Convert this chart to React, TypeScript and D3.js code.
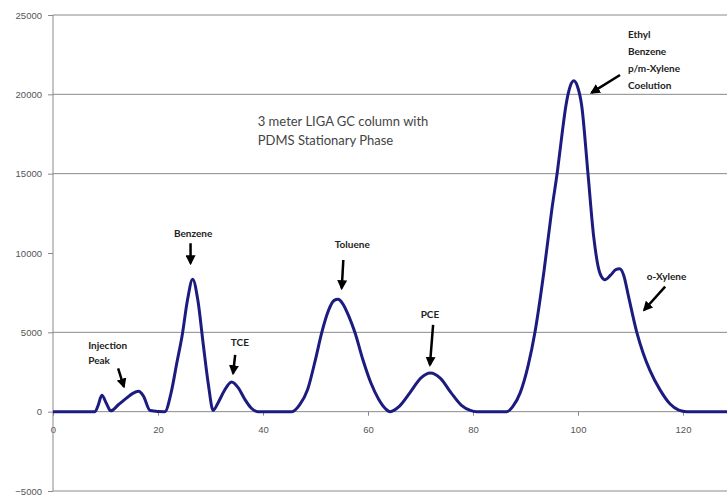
import React, { useEffect, useRef } from 'react';
import * as d3 from 'd3';

// retention time (min) and detector signal
const retentionTimes = [
  0, 8, 8.6, 9.3, 10.2, 11, 12.5, 14, 15.2, 16.3, 17.2, 18.5, 21.3, 22.5, 23.6, 24.6, 25.6,
  26.6, 27.6, 28.6, 29.6, 30.5, 31.5, 32.6, 34.0, 35.3, 36.5, 37.7, 39, 45.5, 47, 48.5, 50,
  51.2, 52.5, 53.5, 54.3, 55.2, 56.3, 57.5, 59, 60.5, 62, 63.3, 64.2, 66, 68, 70, 71.9, 73.8,
  75.8, 77.8, 79.5, 80.7, 86.4, 87.6, 89, 90.5, 91.8, 93.5, 95, 96.1, 97, 97.7, 98.5, 99.2,
  99.9, 100.7, 101.9, 103, 104.2, 105.1, 106.2, 107.2, 107.9, 108.7, 109.6, 111.2, 112.4,
  113.7, 115.6, 117.5, 119.2, 120.7, 132,
];
const signal = [
  0, 0, 400, 1030, 500, 50, 450, 850, 1150, 1280, 1000, 80, 0, 1200, 3100, 4800, 7000,
  8350, 7000, 4300, 1700, 80, 600, 1300, 1870, 1500, 800, 250, 0, 0, 440, 1400, 3300,
  5000, 6400, 7000, 7080, 6800, 6050, 5000, 3300, 1850, 800, 200, 0, 350, 1200, 2100, 2440, 2100,
  1200, 400, 80, 0, 0, 330, 1200, 2900, 5000, 8800, 12700, 15200, 17600, 19300, 20500, 20850,
  20500, 19300, 15000, 11000, 8700, 8320, 8600, 8950, 9000, 8600, 7300, 5000, 3700,
  2600, 1390, 500, 100, 0, 0,
];

const yTicks = [-5000, 0, 5000, 10000, 15000, 20000, 25000];
const yGridValues = [-5000, 5000, 15000, 20000, 25000];
const xTicks = [0, 20, 40, 60, 80, 100, 120];

// peak labels: text lines, anchor position and arrow (data units)
const peakLabels = [
  { lines: ['Injection', 'Peak'], x: 6.7, y: 4200, anchor: 'start', arrow: [12.4, 2735, 13.5, 1580] },
  { lines: ['Benzene'], x: 26.7, y: 11200, anchor: 'middle', arrow: [26.2, 10614, 26.2, 9354] },
  { lines: ['TCE'], x: 35.6, y: 4330, anchor: 'middle', arrow: [34.7, 3574, 34.3, 2420] },
  { lines: ['Toluene'], x: 57, y: 10507, anchor: 'middle', arrow: [55.3, 9562, 55.0, 7778] },
  { lines: ['PCE'], x: 71.8, y: 6098, anchor: 'middle', arrow: [72.4, 5465, 71.8, 2944] },
  { lines: ['Ethyl', 'Benzene', 'p/m-Xylene', 'Coelution'], x: 109.5, y: 23743, anchor: 'start', arrow: [108, 21221, 102.6, 20107] },
  { lines: ['o-Xylene'], x: 113.1, y: 8490, anchor: 'start', arrow: [116.6, 7879, 112.6, 6408] },
];

const captionLines = ['3 meter LIGA GC column with', 'PDMS Stationary Phase'];

const App = () => {
  const svgRef = useRef<SVGSVGElement>(null);

  useEffect(() => {
    document.body.style.margin = '0';
    const width = 727;
    const height = 497;

    const svg = d3.select(svgRef.current);
    svg.selectAll('*').remove();
    svg.attr('width', width).attr('height', height);

    const x = d3.scaleLinear().domain([0, 120]).range([53, 683]);
    const y = d3.scaleLinear().domain([-5000, 25000]).range([491, 15]);

    svg.append('defs').append('marker')
      .attr('id', 'head')
      .attr('viewBox', '0 0 10 10')
      .attr('refX', 8).attr('refY', 5)
      .attr('markerWidth', 4).attr('markerHeight', 4)
      .attr('orient', 'auto')
      .append('path').attr('d', 'M0,0 L10,5 L0,10 z').attr('fill', '#000');

    // gridlines
    svg.selectAll('line.grid')
      .data(yGridValues)
      .enter().append('line')
      .attr('x1', x(0)).attr('x2', width)
      .attr('y1', d => y(d)).attr('y2', d => y(d))
      .attr('stroke', '#8a8a8a').attr('stroke-width', 1);

    // x axis at zero
    const xAxis = svg.append('g').attr('transform', `translate(0,${y(0)})`)
      .call(d3.axisBottom(x).tickValues(xTicks).tickSize(4).tickPadding(11).tickFormat(d3.format('d')));
    xAxis.select('.domain').attr('stroke', '#8a8a8a').attr('d', `M${x(0)},0H${width}`);
    xAxis.selectAll('.tick line').attr('stroke', '#8a8a8a');
    xAxis.selectAll('text')
      .attr('fill', '#555').style('font-family', '"Liberation Sans Narrow", "Liberation Sans", sans-serif').style('font-size', '9.5px');

    // y axis
    const yAxis = svg.append('g').attr('transform', `translate(${x(0)},0)`)
      .call(d3.axisLeft(y).tickValues(yTicks).tickSize(5).tickPadding(6).tickFormat(d3.format('d')));
    yAxis.select('.domain').attr('stroke', '#8a8a8a').attr('d', `M0,${y(25000)}V${y(-5000)}`);
    yAxis.selectAll('.tick line').attr('stroke', '#8a8a8a');
    yAxis.selectAll('text')
      .attr('fill', '#555').style('font-family', '"Liberation Sans Narrow", "Liberation Sans", sans-serif').style('font-size', '9.5px');

    // chromatogram trace
    const points = retentionTimes.map((t, i) => [t, signal[i]] as [number, number]);
    const line = d3.line<[number, number]>()
      .x(d => x(d[0]))
      .y(d => y(d[1]))
      .curve(d3.curveMonotoneX);
    svg.append('path')
      .datum(points)
      .attr('d', line)
      .attr('fill', 'none')
      .attr('stroke', '#1c1c80')
      .attr('stroke-width', 3)
      .attr('stroke-linejoin', 'round');

    // caption
    svg.append('text')
      .attr('x', x(39)).attr('y', y(18321))
      .attr('fill', '#444')
      .style('font-family', 'Lato, sans-serif').style('font-size', '13px')
      .selectAll('tspan')
      .data(captionLines)
      .enter().append('tspan')
      .attr('x', x(39))
      .attr('dy', (d, i) => (i === 0 ? '0.35em' : '19px'))
      .text(d => d);

    // peak labels
    peakLabels.forEach(p => {
      svg.append('text')
        .attr('x', x(p.x)).attr('y', y(p.y))
        .attr('text-anchor', p.anchor)
        .attr('fill', '#222')
        .style('font-family', 'Lato, sans-serif').style('font-size', '10px').style('font-weight', 'bold')
        .selectAll('tspan')
        .data(p.lines)
        .enter().append('tspan')
        .attr('x', x(p.x))
        .attr('dy', (d, i) => (i === 0 ? '0.35em' : p.lines.length > 2 ? '17px' : '15px'))
        .text(d => d);
      const [ax1, ay1, ax2, ay2] = p.arrow;
      svg.append('line')
        .attr('x1', x(ax1)).attr('y1', y(ay1))
        .attr('x2', x(ax2)).attr('y2', y(ay2))
        .attr('stroke', '#000').attr('stroke-width', 2.5)
        .attr('marker-end', 'url(#head)');
    });
  }, []);

  return (
    <div>
      <svg ref={svgRef} style={{ display: 'block' }}></svg>
    </div>
  );
};

export default App;
